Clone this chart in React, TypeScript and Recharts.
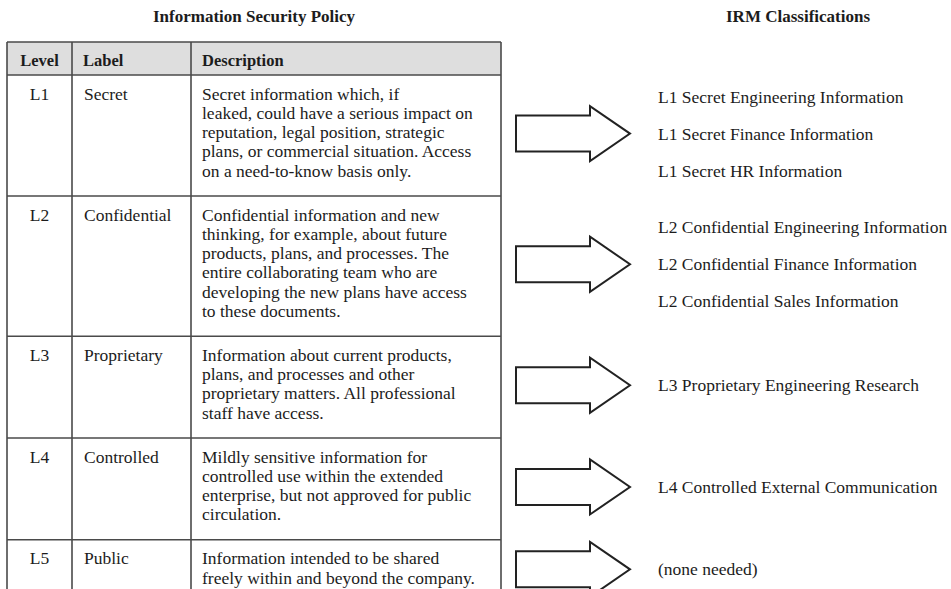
import { ScatterChart, Scatter, XAxis, YAxis, ReferenceLine, ReferenceArea } from "recharts";

// table content
const titles = ["Information Security Policy", "IRM Classifications"];
const headers = ["Level", "Label", "Description"];
const levels = ["L1", "L2", "L3", "L4", "L5"];
const labels = ["Secret", "Confidential", "Proprietary", "Controlled", "Public"];
const descriptions = [
  [
    "Secret information which, if",
    "leaked, could have a serious impact on",
    "reputation, legal position, strategic",
    "plans, or commercial situation. Access",
    "on a need-to-know basis only.",
  ],
  [
    "Confidential information and new",
    "thinking, for example, about future",
    "products, plans, and processes. The",
    "entire collaborating team who are",
    "developing the new plans have access",
    "to these documents.",
  ],
  [
    "Information about current products,",
    "plans, and processes and other",
    "proprietary matters. All professional",
    "staff have access.",
  ],
  [
    "Mildly sensitive information for",
    "controlled use within the extended",
    "enterprise, but not approved for public",
    "circulation.",
  ],
  ["Information intended to be shared", "freely within and beyond the company."],
];
const classifications = [
  ["L1 Secret Engineering Information", "L1 Secret Finance Information", "L1 Secret HR Information"],
  ["L2 Confidential Engineering Information", "L2 Confidential Finance Information", "L2 Confidential Sales Information"],
  ["L3 Proprietary Engineering Research"],
  ["L4 Controlled External Communication"],
  ["(none needed)"],
];

const W = 951;
const H = 589;
const FONT = "'Liberation Serif', 'Times New Roman', serif";
const INK = "#1c1c1c";
const RULE = "#4a4a4a";
const LINE_H = 19.3;
const ROW_PAD = 24.5;
const COLS = [7, 72, 191, 501];
const TABLE_TOP = 42;
const HEAD_BOTTOM = 75;
const ARROW_X = 516;
const IRM_X = 658;
const IRM_GAP = 37;

// row layout from the number of description lines
let cursor = HEAD_BOTTOM;
const rows = levels.map((level, i) => {
  const n = descriptions[i].length;
  const top = cursor;
  const first = top + 18.5;
  cursor = top + n * LINE_H + ROW_PAD;
  return { level, top, bottom: cursor, first, mid: first + ((n - 1) * LINE_H) / 2 + 1.5 };
});

const titleData = [
  { x: 254, y: 16, lines: [titles[0]] },
  { x: 798, y: 16, lines: [titles[1]] },
];
const headerData = headers.map((h, i) => ({
  x: i === 0 ? (COLS[0] + COLS[1]) / 2 : COLS[i] + 11,
  y: 60,
  lines: [h],
}));
const levelData = rows.map((r) => ({ x: (COLS[0] + COLS[1]) / 2, y: r.first, lines: [r.level] }));
const cellData = rows.flatMap((r, i) => [
  { x: COLS[1] + 12, y: r.first, lines: [labels[i]] },
  { x: COLS[2] + 11, y: r.first, lines: descriptions[i] },
]);
const arrowData = rows.map((r) => ({ x: ARROW_X, y: r.mid }));
const irmData = rows.flatMap((r, i) =>
  classifications[i].map((c, k) => ({
    x: IRM_X,
    y: r.mid + (k - (classifications[i].length - 1) / 2) * IRM_GAP,
    lines: [c],
  }))
);

const makeText = (anchor: string, bold: boolean, size: number) => (props: any) => {
  const { cx, cy, payload } = props;
  return (
    <text
      x={cx}
      y={cy}
      fontFamily={FONT}
      fontSize={size}
      fontWeight={bold ? 700 : 400}
      textAnchor={anchor}
      dominantBaseline="central"
      fill={INK}
    >
      {payload.lines.map((t: string, k: number) => (
        <tspan key={k} x={cx} dy={k === 0 ? 0 : LINE_H}>
          {t}
        </tspan>
      ))}
    </text>
  );
};

const ArrowShape = (props: any) => {
  const { cx, cy } = props;
  const pts = [
    [cx, cy - 18],
    [cx + 74, cy - 18],
    [cx + 74, cy - 27.5],
    [cx + 114, cy],
    [cx + 74, cy + 27.5],
    [cx + 74, cy + 18],
    [cx, cy + 18],
  ]
    .map((p) => p.join(","))
    .join(" ");
  return <polygon points={pts} fill="#fff" stroke="#222" strokeWidth={2} strokeLinejoin="miter" />;
};

export default function App() {
  const hLines = [TABLE_TOP, HEAD_BOTTOM, ...rows.slice(0, -1).map((r) => r.bottom)];
  return (
    <div style={{ position: "absolute", left: 0, top: 0, width: W, height: H, background: "#fff" }}>
      <ScatterChart width={W} height={H} margin={{ top: 0, right: 0, bottom: 0, left: 0 }}>
        <XAxis type="number" dataKey="x" domain={[0, W]} allowDataOverflow hide />
        <YAxis type="number" dataKey="y" domain={[0, H]} allowDataOverflow reversed hide />
        <ReferenceArea
          x1={COLS[0]}
          x2={COLS[3]}
          y1={TABLE_TOP}
          y2={HEAD_BOTTOM}
          fill="#dedede"
          fillOpacity={1}
          stroke="none"
        />
        {hLines.map((y, i) => (
          <ReferenceLine
            key={"h" + i}
            segment={[
              { x: COLS[0], y },
              { x: COLS[3], y },
            ]}
            stroke={RULE}
            strokeWidth={1.6}
          />
        ))}
        {COLS.map((x, i) => (
          <ReferenceLine
            key={"v" + i}
            segment={[
              { x, y: TABLE_TOP },
              { x, y: H },
            ]}
            stroke={RULE}
            strokeWidth={1.6}
          />
        ))}
        <Scatter data={titleData} shape={makeText("middle", true, 17)} isAnimationActive={false} />
        <Scatter data={headerData.slice(0, 1)} shape={makeText("middle", true, 16.5)} isAnimationActive={false} />
        <Scatter data={headerData.slice(1)} shape={makeText("start", true, 16.5)} isAnimationActive={false} />
        <Scatter data={levelData} shape={makeText("middle", false, 17.5)} isAnimationActive={false} />
        <Scatter data={cellData} shape={makeText("start", false, 17.5)} isAnimationActive={false} />
        <Scatter data={arrowData} shape={ArrowShape} isAnimationActive={false} />
        <Scatter data={irmData} shape={makeText("start", false, 17.5)} isAnimationActive={false} />
      </ScatterChart>
    </div>
  );
}
